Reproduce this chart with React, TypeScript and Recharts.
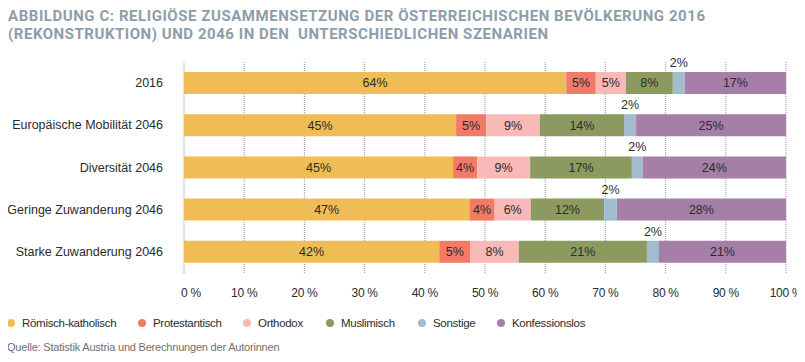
import { BarChart, Bar, XAxis, YAxis, CartesianGrid, LabelList } from "recharts";

const categories = [
  "2016",
  "Europäische Mobilität 2046",
  "Diversität 2046",
  "Geringe Zuwanderung 2046",
  "Starke Zuwanderung 2046",
];

const katholisch = [63.5, 45.2, 44.7, 47.4, 42.4];
const protestantisch = [4.9, 5.0, 4.0, 4.2, 5.2];
const orthodox = [5.0, 8.9, 8.8, 6.0, 8.0];
const muslimisch = [7.8, 14.0, 16.9, 12.2, 21.3];
const sonstige = [2.0, 2.0, 1.8, 2.1, 2.0];
const konfessionslos = [16.8, 24.9, 23.8, 28.1, 21.1];

const xTicks = [0, 10, 20, 30, 40, 50, 60, 70, 80, 90, 100];

const titleLines = [
  "ABBILDUNG C: RELIGIÖSE ZUSAMMENSETZUNG DER ÖSTERREICHISCHEN BEVÖLKERUNG 2016",
  "(REKONSTRUKTION) UND 2046 IN DEN  UNTERSCHIEDLICHEN SZENARIEN",
];

const series = [
  { key: "katholisch", name: "Römisch-katholisch", color: "#F0BC55", values: katholisch },
  { key: "protestantisch", name: "Protestantisch", color: "#F47A68", values: protestantisch },
  { key: "orthodox", name: "Orthodox", color: "#F9B9B8", values: orthodox },
  { key: "muslimisch", name: "Muslimisch", color: "#8C9A60", values: muslimisch },
  { key: "sonstige", name: "Sonstige", color: "#A0BCCD", values: sonstige },
  { key: "konfessionslos", name: "Konfessionslos", color: "#A57FA7", values: konfessionslos },
];

const data = categories.map((c, i) => {
  const row: Record<string, string | number> = { name: c };
  series.forEach((s) => {
    row[s.key] = s.values[i];
  });
  return row;
});

const textFont = "'Liberation Sans', Arial, sans-serif";

// legend dot positions (x centre in px), as in the source layout
const legendX = [11, 142, 247, 330, 422, 501];

function CategoryTick({ x, y, payload }: any) {
  return (
    <text x={x} y={y} textAnchor="end" dominantBaseline="central" fontFamily={textFont} fontSize={12.5} fill="#2b2b2b">
      {payload.value}
    </text>
  );
}

function PercentTick({ x, y, payload }: any) {
  const dx = payload.value === 0 ? 7 : 0;
  return (
    <text
      x={x + dx}
      y={y + 12}
      textAnchor="middle"
      dominantBaseline="central"
      fontFamily={textFont}
      fontSize={12}
      letterSpacing={-0.3}
      fill="#2b2b2b"
    >
      {payload.value} %
    </text>
  );
}

const fmt = (v: any) => `${Math.round(Number(v))}%`;

export default function App() {
  return (
    <div style={{ position: "relative", width: 805, height: 362, margin: -8, background: "#fff", overflow: "hidden" }}>
      <div style={{ position: "absolute", left: 0, top: 0 }}>
        <BarChart
          width={805}
          height={300}
          data={data}
          layout="vertical"
          margin={{ top: 62, right: 19, left: 0, bottom: 0 }}
          barSize={22}
        >
          <CartesianGrid horizontal={false} stroke="#9a9a9a" strokeDasharray="1 1" />
          <XAxis
            type="number"
            domain={[0, 100]}
            ticks={xTicks}
            axisLine={false}
            tickLine={false}
            height={27}
            tick={<PercentTick />}
            interval={0}
          />
          <YAxis
            type="category"
            dataKey="name"
            width={184}
            axisLine={false}
            tickLine={false}
            tickSize={0}
            tickMargin={21}
            tick={<CategoryTick />}
            interval={0}
          />
          {series.map((s) => (
            <Bar key={s.key} dataKey={s.key} stackId="a" fill={s.color} isAnimationActive={false}>
              <LabelList
                dataKey={s.key}
                position={s.key === "sonstige" ? "top" : "center"}
                offset={5}
                formatter={fmt}
                fontFamily={textFont}
                fontSize={12.5}
                fill="#2b2b2b"
              />
            </Bar>
          ))}
        </BarChart>
      </div>

      <svg width={805} height={48} style={{ position: "absolute", left: 0, top: 0, zIndex: 2 }}>
        <text fontFamily="Roboto, sans-serif" fontWeight={700} fontSize={15} fill="#8D9DA9" style={{ whiteSpace: "pre" }}>
          <tspan x={8} y={21} textLength={697} lengthAdjust="spacing">
            {titleLines[0]}
          </tspan>
          <tspan x={8} y={39} textLength={540} lengthAdjust="spacing">
            {titleLines[1]}
          </tspan>
        </text>
      </svg>

      {series.map((s, i) => (
        <div
          key={s.key}
          style={{
            position: "absolute",
            left: legendX[i] - 4,
            top: 315,
            height: 16,
            display: "flex",
            alignItems: "center",
            fontFamily: textFont,
            fontSize: 11.5,
            letterSpacing: -0.3,
            color: "#2b2b2b",
            whiteSpace: "nowrap",
          }}
        >
          <span
            style={{
              display: "inline-block",
              width: 8,
              height: 8,
              borderRadius: 4,
              background: s.color,
              marginRight: 7,
            }}
          />
          <span>{s.name}</span>
        </div>
      ))}

      <div
        style={{
          position: "absolute",
          left: 7,
          top: 341,
          fontFamily: textFont,
          fontSize: 11,
          letterSpacing: -0.2,
          color: "#6f6f6f",
        }}
      >
        Quelle: Statistik Austria und Berechnungen der Autorinnen
      </div>
    </div>
  );
}
